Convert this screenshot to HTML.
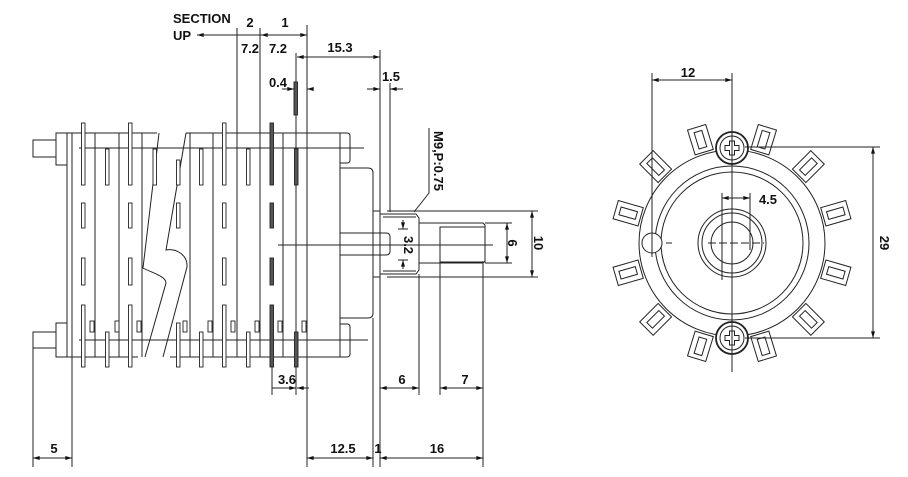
<!DOCTYPE html>
<html><head><meta charset="utf-8"><style>
html,body{margin:0;padding:0;background:#fff;}
svg{display:block;}
text{font-family:"Liberation Sans",Arial,sans-serif;font-size:13px;fill:#111;font-weight:bold;}
</style></head><body>
<svg width="908" height="477" viewBox="0 0 908 477" xmlns="http://www.w3.org/2000/svg">
<defs>
<marker id="a" viewBox="0 0 10 6" refX="10" refY="3" markerWidth="7" markerHeight="4" orient="auto-start-reverse"><path d="M0,0L10,3L0,6z" fill="#111"/></marker>
<g id="tab"><rect x="-9.5" y="-13" width="19" height="26" fill="#fff" stroke="#222" stroke-width="1"/><rect x="-4" y="-8.5" width="8" height="17" fill="none" stroke="#222" stroke-width="1"/></g>
</defs>
<g stroke="#222" stroke-width="1" fill="none">
<!-- left studs & end plate -->
<rect x="33" y="140" width="23" height="17"/>
<rect x="33" y="332" width="23" height="16"/>
<rect x="56" y="133" width="11" height="32"/>
<rect x="56" y="323" width="11" height="34"/>
<line x1="67" y1="133" x2="67" y2="357"/>
<line x1="72" y1="133" x2="72" y2="467"/>
<line x1="33" y1="348" x2="33" y2="467"/>
<!-- left block -->
<line x1="56" y1="133" x2="157" y2="133"/>
<line x1="56" y1="357" x2="138" y2="357"/>
<line x1="95" y1="133" x2="95" y2="357"/>
<line x1="119" y1="133" x2="119" y2="357"/>
<line x1="142" y1="133" x2="142" y2="357"/>
<!-- break -->
<path d="M159,133 L143,268 C150,272 166,276 166,283 L145,357"/>
<path d="M186,133 L166,250 C176,248 188,255 187,267 L163,357"/>
<!-- right block -->
<line x1="186" y1="133" x2="340" y2="133"/>
<line x1="170" y1="357" x2="340" y2="357"/>
<line x1="340" y1="133" x2="340" y2="357"/>
<line x1="190" y1="133" x2="190" y2="357"/>
<line x1="213" y1="133" x2="213" y2="357"/>
<line x1="237" y1="28" x2="237" y2="357"/>
<line x1="260" y1="28" x2="260" y2="357"/>
<line x1="283" y1="133" x2="283" y2="357"/>
<line x1="307" y1="25" x2="307" y2="467"/>
<line x1="79" y1="148" x2="364" y2="148"/>
<line x1="79" y1="340" x2="368" y2="340"/>
<!-- right nubs -->
<path d="M340,133 H347 Q350,133 350,136 V160 Q350,163 347,163 H340"/>
<path d="M340,324 H347 Q350,324 350,327 V354 Q350,357 347,357 H340"/>
<!-- housing -->
<path d="M340,168 H368 Q373,168 373,173 V313 Q373,318 368,318 H340"/>
<rect x="373" y="211" width="7" height="66"/>
<path d="M380,214 H416 L419,218 V270 L416,274 H380"/>
<line x1="383" y1="217" x2="416" y2="217"/>
<line x1="383" y1="271" x2="416" y2="271"/>
<path d="M340,233 H386 Q390,233 390,237 V251 Q390,255 386,255 H340"/>
<path d="M419,223 H483 L485,225 V261 L483,263 H419"/>
<rect x="440" y="227" width="45" height="35"/>
<line x1="278" y1="245" x2="493" y2="245"/>
<!-- dims verticals -->
<line x1="296" y1="53" x2="296" y2="395"/>
<line x1="380" y1="50" x2="380" y2="467"/>
<line x1="373" y1="318" x2="373" y2="467"/>
<line x1="390" y1="83" x2="390" y2="212"/>
<line x1="272" y1="357" x2="272" y2="395"/>
<line x1="419" y1="274" x2="419" y2="395"/>
<line x1="440" y1="262" x2="440" y2="395"/>
<line x1="483" y1="263" x2="483" y2="467"/>
<line x1="387" y1="211" x2="538" y2="211"/>
<line x1="387" y1="277" x2="538" y2="277"/>
<line x1="485" y1="223" x2="512" y2="223"/>
<line x1="485" y1="263" x2="512" y2="263"/>
<line x1="398" y1="229" x2="408" y2="229"/>
<line x1="398" y1="260" x2="408" y2="260"/>
<path d="M429,128 V193 L414,212"/>
</g>
<!-- slots -->
<g stroke="#222" stroke-width="0.9" fill="#fff">
<rect x="81.5" y="123" width="3.5" height="62"/><rect x="81.5" y="203" width="3.5" height="25"/><rect x="81.5" y="258" width="3.5" height="27"/><rect x="81.5" y="305" width="3.5" height="62"/>
<rect x="105.5" y="149" width="3.5" height="36"/><rect x="105.5" y="332" width="3.5" height="35"/>
<rect x="128.5" y="123" width="3.5" height="62"/><rect x="128.5" y="203" width="3.5" height="25"/><rect x="128.5" y="258" width="3.5" height="27"/><rect x="128.5" y="305" width="3.5" height="62"/>
<rect x="153" y="149" width="3.5" height="36"/>
<rect x="176.5" y="160" width="3.5" height="25"/><rect x="176.5" y="203" width="3.5" height="25"/><rect x="176.5" y="323" width="3.5" height="44"/>
<rect x="199.5" y="149" width="3.5" height="36"/><rect x="199.5" y="332" width="3.5" height="35"/>
<rect x="222.5" y="123" width="3.5" height="62"/><rect x="222.5" y="203" width="3.5" height="25"/><rect x="222.5" y="258" width="3.5" height="27"/><rect x="222.5" y="305" width="3.5" height="62"/>
<rect x="246.5" y="149" width="3.5" height="36"/><rect x="246.5" y="332" width="3.5" height="35"/>
<rect x="90" y="321" width="4" height="11"/><rect x="115" y="321" width="4" height="11"/><rect x="137" y="321" width="4" height="11"/>
<rect x="183" y="321" width="4" height="11"/><rect x="208" y="321" width="4" height="11"/><rect x="231" y="321" width="4" height="11"/>
<rect x="255" y="321" width="4" height="11"/><rect x="278" y="321" width="4" height="11"/><rect x="302" y="321" width="4" height="11"/>
</g>
<g stroke="#222" stroke-width="0.9" fill="#555">
<rect x="270" y="123" width="3.5" height="62"/><rect x="270" y="203" width="3.5" height="25"/><rect x="270" y="258" width="3.5" height="27"/><rect x="270" y="305" width="3.5" height="62"/>
<rect x="294.5" y="149" width="3.5" height="36"/><rect x="294.5" y="332" width="3.5" height="35"/>
<rect x="294" y="82" width="3.5" height="33"/>
</g>
<!-- dimension lines -->
<g stroke="#222" stroke-width="1" fill="none">
<line x1="307" y1="35" x2="197" y2="35" marker-end="url(#a)"/>
<line x1="261" y1="35" x2="307" y2="35" marker-start="url(#a)" marker-end="url(#a)"/>
<line x1="297" y1="57" x2="380" y2="57" marker-start="url(#a)" marker-end="url(#a)"/>
<line x1="282" y1="89" x2="294" y2="89" marker-end="url(#a)"/>
<line x1="312" y1="89" x2="307" y2="89" marker-end="url(#a)"/>
<line x1="367" y1="89" x2="380" y2="89" marker-end="url(#a)"/>
<line x1="403" y1="89" x2="390" y2="89" marker-end="url(#a)"/>
<line x1="272" y1="388" x2="296" y2="388" marker-end="url(#a)"/>
<line x1="309" y1="388" x2="297" y2="388" marker-end="url(#a)"/>
<line x1="380" y1="388" x2="419" y2="388" marker-start="url(#a)" marker-end="url(#a)"/>
<line x1="440" y1="388" x2="483" y2="388" marker-start="url(#a)" marker-end="url(#a)"/>
<line x1="33" y1="458" x2="72" y2="458" marker-start="url(#a)" marker-end="url(#a)"/>
<line x1="307" y1="458" x2="373" y2="458" marker-start="url(#a)" marker-end="url(#a)"/>
<line x1="380" y1="458" x2="483" y2="458" marker-start="url(#a)" marker-end="url(#a)"/>
<line x1="507" y1="223" x2="507" y2="263" marker-start="url(#a)" marker-end="url(#a)"/>
<line x1="532" y1="211" x2="532" y2="277" marker-start="url(#a)" marker-end="url(#a)"/>
<line x1="403" y1="220" x2="403" y2="229" marker-end="url(#a)"/>
<line x1="403" y1="269" x2="403" y2="260" marker-end="url(#a)"/>
</g>
<text x="173" y="23">SECTION</text>
<text x="173" y="40">UP</text>
<text x="250" y="27" text-anchor="middle">2</text>
<text x="285" y="27" text-anchor="middle">1</text>
<text x="250" y="53" text-anchor="middle">7.2</text>
<text x="278" y="53" text-anchor="middle">7.2</text>
<text x="340" y="52" text-anchor="middle">15.3</text>
<text x="278" y="87" text-anchor="middle">0.4</text>
<text x="391" y="81" text-anchor="middle">1.5</text>
<text x="287" y="384" text-anchor="middle">3.6</text>
<text x="402" y="384" text-anchor="middle">6</text>
<text x="465" y="384" text-anchor="middle">7</text>
<text x="54" y="453" text-anchor="middle">5</text>
<text x="343" y="453" text-anchor="middle">12.5</text>
<text x="378" y="453" text-anchor="middle">1</text>
<text x="437" y="453" text-anchor="middle">16</text>
<text transform="translate(434,161) rotate(90)" text-anchor="middle">M9,P:0.75</text>
<text transform="translate(404,245) rotate(90)" text-anchor="middle">3.2</text>
<text transform="translate(508,243) rotate(90)" text-anchor="middle">6</text>
<text transform="translate(534,243) rotate(90)" text-anchor="middle">10</text>
<!-- right view -->
<g stroke="#222" stroke-width="1" fill="none">
<g transform="translate(732,243)">
<use href="#tab" transform="rotate(-17) translate(0,-108)"/>
<use href="#tab" transform="rotate(17) translate(0,-108)"/>
<use href="#tab" transform="rotate(-45) translate(0,-108)"/>
<use href="#tab" transform="rotate(45) translate(0,-108)"/>
<use href="#tab" transform="rotate(-74) translate(0,-108)"/>
<use href="#tab" transform="rotate(74) translate(0,-108)"/>
<use href="#tab" transform="rotate(-106) translate(0,-108)"/>
<use href="#tab" transform="rotate(106) translate(0,-108)"/>
<use href="#tab" transform="rotate(-135) translate(0,-108)"/>
<use href="#tab" transform="rotate(135) translate(0,-108)"/>
<use href="#tab" transform="rotate(-163) translate(0,-108)"/>
<use href="#tab" transform="rotate(163) translate(0,-108)"/>
<circle r="93" fill="#fff"/>
<circle r="77"/><circle r="71"/>
<circle r="34"/><circle r="30"/><circle r="21"/>
<circle cx="-80" cy="0" r="10" fill="#fff"/>
<g transform="translate(0,-95)"><circle r="16" fill="#fff" stroke-width="1.8"/><circle r="12"/><path d="M-2.5,-7H2.5V-2.5H7V2.5H2.5V7H-2.5V2.5H-7V-2.5H-2.5Z"/></g>
<g transform="translate(0,95)"><circle r="16" fill="#fff" stroke-width="1.8"/><circle r="12"/><path d="M-2.5,-7H2.5V-2.5H7V2.5H2.5V7H-2.5V2.5H-7V-2.5H-2.5Z"/></g>
<line x1="-24" y1="0" x2="32" y2="0" stroke-dasharray="8,3"/>
<line x1="-66" y1="0" x2="-60" y2="0"/>
</g>
<line x1="732" y1="73" x2="732" y2="372"/>
<line x1="652" y1="73" x2="652" y2="257"/>
<line x1="722" y1="193" x2="722" y2="280"/>
<line x1="750" y1="193" x2="750" y2="250"/>
<line x1="745" y1="147" x2="880" y2="147"/>
<line x1="745" y1="338" x2="880" y2="338"/>
<line x1="652" y1="80" x2="732" y2="80" marker-start="url(#a)" marker-end="url(#a)"/>
<line x1="722" y1="198" x2="750" y2="198" marker-start="url(#a)" marker-end="url(#a)"/>
<line x1="873" y1="147" x2="873" y2="338" marker-start="url(#a)" marker-end="url(#a)"/>
</g>
<text x="688" y="77" text-anchor="middle">12</text>
<text x="768" y="204" text-anchor="middle">4.5</text>
<text transform="translate(880,243) rotate(90)" text-anchor="middle">29</text>
</svg>
</body></html>
